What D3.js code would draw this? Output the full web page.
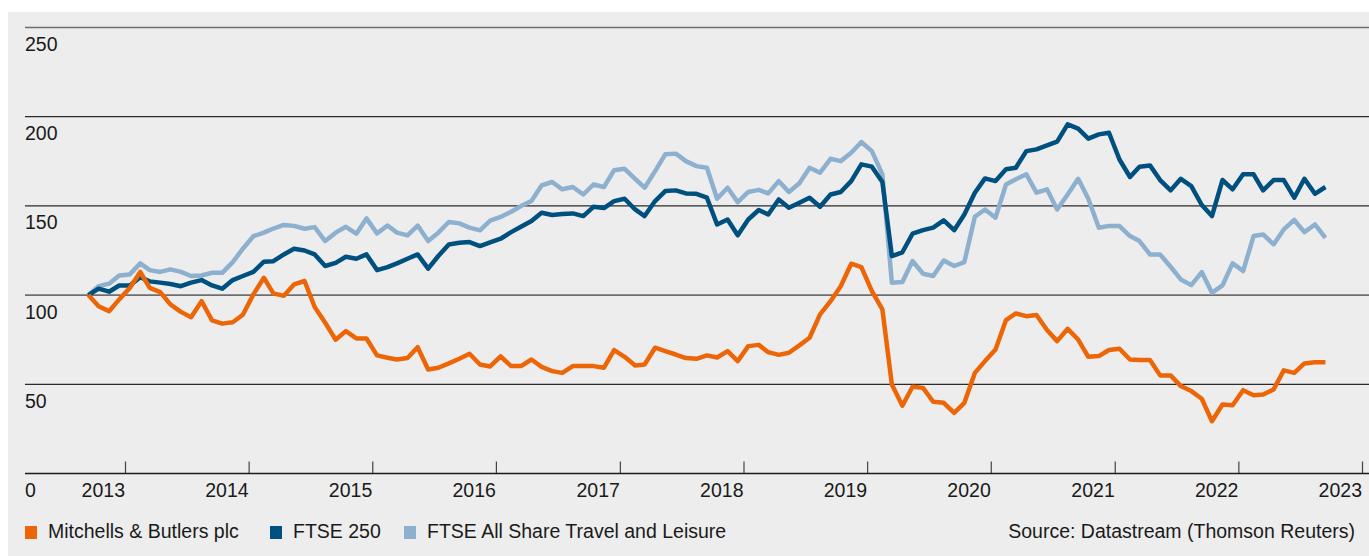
<!DOCTYPE html>
<html>
<head>
<meta charset="utf-8">
<script src="https://cdn.jsdelivr.net/npm/d3@7"></script>
<style>
  html, body { margin: 0; padding: 0; background: #fff; }
  svg { display: block; }
  text { font-family: "Liberation Sans", Arial, sans-serif; font-size: 19.5px; fill: #1a1a1a; }
</style>
</head>
<body>
<div id="chart"></div>
<script>
// monthly index values, Sep 2012 = 100
const startMonth = new Date(2012, 8, 15);

const mitchells = [
  100, 93.8, 91, 97.6, 104, 113, 104, 101.7, 94.8, 90.6, 87.6, 96.6, 85.8, 84, 84.8, 89, 100.4, 109.7, 101, 99.6,
  106, 107.9, 93.3, 84.5, 75, 79.8, 75.7, 75.7, 66.2, 64.9, 63.9, 64.7, 70.8, 58.3, 59.3, 61.7, 64.3, 67.1, 61.1, 60,
  65.6, 60.2, 60.2, 63.9, 59.8, 57.4, 56.4, 60.2, 60.2, 60.2, 59.3, 69.2, 65.4, 60.6, 61.1, 70.5, 68.6, 66.7, 64.7, 64.3,
  66.2, 65, 68.6, 63, 71.4, 72.1, 68, 66.5, 67.7, 71.8, 76.1, 89.2, 96.6, 105, 117.6, 115.7, 102.2, 92, 49.9, 38,
  48.6, 48, 40.2, 39.6, 34, 39.6, 56.4, 63, 69.5, 86, 89.7, 88.2, 88.8, 80.4, 74.2, 81.1, 75.1, 65.4, 65.8, 69.2,
  69.9, 63.9, 63.6, 63.6, 55, 55, 49, 46.2, 41.9, 29.3, 38.7, 38.3, 46.7, 43.9, 44.3, 47.1, 57.8, 56.4, 61.7, 62.4,
  62.4
];

const ftse250 = [
  100, 103.6, 101.9, 105.4, 105.4, 110, 107.7, 107, 106.2, 105, 107, 108.4, 105.4, 103.6, 108.4, 110.7, 113, 118.7, 119, 122.8,
  126, 125, 122.8, 116.3, 118.1, 121.5, 120.4, 122.8, 114, 115.7, 117.8, 120.4, 122.8, 114.8, 121.9, 128.4, 129.3, 129.7, 127.5, 129.5,
  131.6, 135.3, 138.3, 141.5, 146.2, 144.9, 145.4, 145.8, 144.3, 149.5, 148.8, 152.7, 154, 148, 144.3, 152.7, 158.3, 158.7, 157, 156.8,
  154.6, 139.6, 142.4, 133.5, 142.4, 147.7, 145.2, 153.6, 149, 151.8, 154.6, 149.5, 156.4, 157.8, 163.9, 173.3, 172, 163.4, 121.9, 124,
  134.4, 136.4, 137.8, 141.9, 136.4, 145.2, 157.4, 165.4, 163.9, 170.5, 171.4, 180.7, 181.7, 183.9, 186, 195.7, 193.3, 187.7, 190.1, 191,
  176, 166.2, 172, 172.7, 164.5, 158.7, 165.2, 161.1, 150.5, 144.3, 164.5, 159.3, 167.7, 167.7, 158.7, 164.5, 164.5, 154.6, 165.2, 156.8,
  160.6
];

const travelLeisure = [
  100, 105, 106.4, 111, 111.6, 117.8, 114, 113, 114.4, 113, 110.7, 111, 112.5, 112.5, 118.5, 126, 133, 135, 137.3, 139.3,
  138.8, 137.2, 138.1, 130.3, 135, 138.3, 134.4, 143, 134.6, 139, 135, 133.5, 139, 130.3, 135, 141, 140.2, 137.8, 136.3, 141.7,
  143.8, 146.7, 149.9, 152.7, 161.5, 163.4, 159.3, 160.6, 156.4, 162, 160.6, 170, 170.8, 165.2, 160.2, 169.5, 178.9, 179.3, 175.1, 172.3,
  171.4, 154, 160.2, 152.1, 157.8, 159, 157, 163.9, 157.8, 162.7, 171.4, 168.6, 176.4, 175.1, 179.8, 185.8, 180.7, 167.7, 106.9, 107.3,
  119.1, 112, 110.7, 119.4, 116.3, 118.5, 143.9, 148, 143.4, 162, 164.9, 167.7, 157.4, 159.3, 148, 156.4, 165.2, 154, 137.8, 138.8,
  138.7, 133.1, 130.3, 122.8, 122.8, 115.9, 108.8, 105.6, 112.9, 101.3, 105.4, 117.8, 113.5, 133.1, 134, 128.4, 136.8, 142.1, 135.3, 139.6,
  132.1
];

const yTicks = [0, 50, 100, 150, 200, 250];
const yearTicks = [2013, 2014, 2015, 2016, 2017, 2018, 2019, 2020, 2021, 2022, 2023];

const seriesNames = ["Mitchells & Butlers plc", "FTSE 250", "FTSE All Share Travel and Leisure"];
const seriesColors = ["#ec6608", "#00507f", "#8eb0cf"];
const sourceNote = "Source: Datastream (Thomson Reuters)";

const width = 1369;
const height = 556;

const months = mitchells.map((d, i) => d3.timeMonth.offset(startMonth, i));

const x = d3.scaleTime()
  .domain([new Date(2013, 0, 1), new Date(2023, 0, 1)])
  .range([125, 1362]);

const y = d3.scaleLinear()
  .domain([0, 250])
  .range([473.5, 27.5]);

const svg = d3.select("#chart")
  .append("svg")
  .attr("width", width)
  .attr("height", height);

// panel
svg.append("rect")
  .attr("x", 8)
  .attr("y", 12)
  .attr("width", width - 8)
  .attr("height", height - 12)
  .attr("fill", "#ededed");

// gridlines + y labels
const grid = svg.append("g");
yTicks.filter(d => d > 0).forEach(d => {
  const grey = (d === 250 || d === 100);
  grid.append("line")
    .attr("x1", 25).attr("x2", width)
    .attr("y1", y(d)).attr("y2", y(d))
    .attr("stroke", grey ? "#6e6e6e" : "#2b2b2b")
    .attr("stroke-width", grey ? 1.6 : 1.2);
});
yTicks.forEach(d => {
  grid.append("text")
    .attr("x", 25)
    .attr("y", y(d) + 23.5)
    .text(d);
});

// x axis
const xAxis = d3.axisTop(x)
  .tickValues(yearTicks.map(yr => new Date(yr, 0, 1)))
  .tickSize(12)
  .tickFormat("");

const axisG = svg.append("g")
  .attr("transform", `translate(0,${y(0)})`)
  .call(xAxis);
axisG.select(".domain").remove();
axisG.selectAll(".tick line").attr("stroke", "#444").attr("stroke-width", 1.2);

svg.append("line")
  .attr("x1", 25).attr("x2", width)
  .attr("y1", y(0)).attr("y2", y(0))
  .attr("stroke", "#1a1a1a")
  .attr("stroke-width", 1.5);

svg.append("g")
  .selectAll("text")
  .data(yearTicks)
  .join("text")
  .attr("x", d => x(new Date(d, 0, 1)))
  .attr("y", 497)
  .attr("text-anchor", "end")
  .text(d => d);

// lines
const line = d3.line()
  .x((d, i) => x(months[i]))
  .y(d => y(d));

const seriesData = [mitchells, ftse250, travelLeisure];
[2, 1, 0].forEach(k => {
  svg.append("path")
    .datum(seriesData[k])
    .attr("fill", "none")
    .attr("stroke", seriesColors[k])
    .attr("stroke-width", 4.5)
    .attr("stroke-linejoin", "round")
    .attr("d", line);
});

// legend
const legendX = [25, 270, 404];
const legend = svg.append("g");
seriesNames.forEach((name, k) => {
  legend.append("rect")
    .attr("x", legendX[k])
    .attr("y", 526)
    .attr("width", 12)
    .attr("height", 13)
    .attr("fill", seriesColors[k]);
  legend.append("text")
    .attr("x", legendX[k] + 23)
    .attr("y", 538)
    .text(name);
});

svg.append("text")
  .attr("x", 1355)
  .attr("y", 538)
  .attr("text-anchor", "end")
  .text(sourceNote);
</script>
</body>
</html>
